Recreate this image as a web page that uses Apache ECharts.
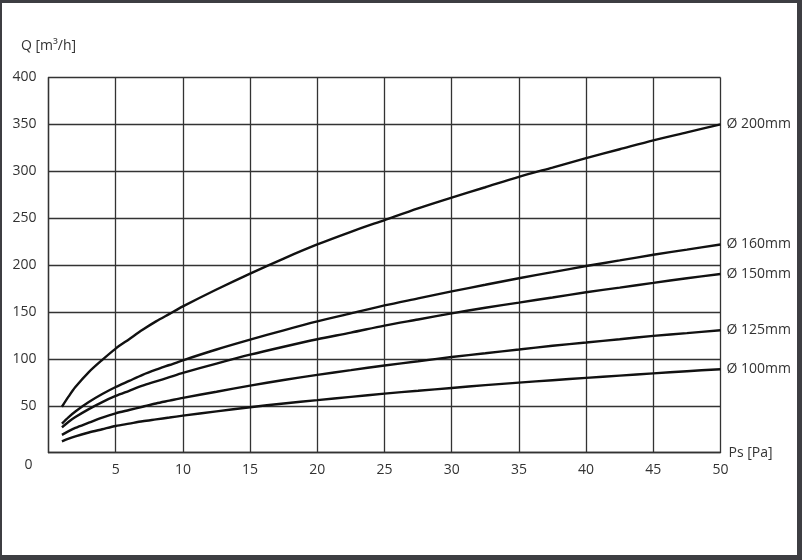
<!DOCTYPE html>
<html>
<head>
<meta charset="utf-8">
<script src="https://cdn.jsdelivr.net/npm/echarts@6/dist/echarts.min.js"></script>
<style>
html,body{margin:0;padding:0;width:802px;height:560px;background:#3d3e42;overflow:hidden;}
#c{position:absolute;left:2px;top:3px;width:795px;height:552px;background:#fff;}
</style>
</head>
<body>
<div id="c"></div>
<script>
// Pressure Ps [Pa]
var psValues = [1, 1.5, 2, 3, 4, 5, 6, 7, 8, 9, 10, 12.5, 15, 17.5, 20, 22.5, 25, 27.5, 30, 32.5, 35, 37.5, 40, 42.5, 45, 47.5, 50];
// Airflow Q [m3/h] for each duct diameter
var q200 = [49, 60, 70, 86, 99, 111, 121, 131, 140, 148, 156, 174, 191, 207, 222, 235.5, 248, 260.5, 272, 283, 294, 304, 314, 323.5, 333, 341.5, 350];
var q160 = [31, 38, 44, 54, 62.5, 70, 76.5, 83, 88.5, 93.5, 98.5, 110, 120.5, 130.5, 140, 148.5, 157, 164.5, 172, 179, 186, 192.5, 199, 205, 211, 216.5, 222];
var q150 = [27, 33, 38, 46.5, 54, 60.5, 66, 71.5, 76, 80.5, 85, 95, 104.5, 113, 121, 128, 135.5, 142, 148.5, 154.5, 160, 165.5, 171, 176, 181, 186, 190.5];
var q125 = [19, 23, 26.5, 32, 37.5, 42, 45.5, 49, 52.5, 55.5, 58.5, 65, 71.5, 77.5, 83, 88, 93, 97.5, 102, 106, 110, 114, 117.5, 121, 124.5, 127.5, 130.5];
var q100 = [12, 15, 17.5, 21.5, 25, 28.5, 31, 33.5, 35.5, 37.5, 39.5, 44, 48.5, 52.5, 56, 59.5, 63, 66, 69, 72, 74.7, 77.3, 79.8, 82.2, 84.6, 86.9, 89];
var seriesNames = ['Ø 200mm', 'Ø 160mm', 'Ø 150mm', 'Ø 125mm', 'Ø 100mm'];
var seriesValues = [q200, q160, q150, q125, q100];
var xAxisName = 'Ps [Pa]';
var yAxisName = 'Q [m³/h]';

var FONT = '"Open Sans", "Noto Sans", sans-serif';
var chart = echarts.init(document.getElementById('c'), null, {renderer: 'canvas'});

var series = seriesNames.map(function (name, i) {
  return {
    name: name,
    type: 'line',
    data: psValues.map(function (x, j) { return [x, seriesValues[i][j]]; }),
    smooth: 0.3,
    symbol: 'none',
    lineStyle: {color: '#111', width: 2.4},
    endLabel: {
      show: true,
      formatter: '{a}',
      distance: 6,
      color: '#333',
      fontFamily: FONT,
      fontSize: 14
    },
    animation: false
  };
});

chart.setOption({
  animation: false,
  grid: {left: 46.5, top: 74.5, right: 76.5, bottom: 102.3, containLabel: false},
  xAxis: {
    type: 'value',
    min: 0, max: 50, interval: 5,
    name: xAxisName,
    nameLocation: 'end',
    nameGap: 8,
    nameTextStyle: {color: '#333', fontFamily: FONT, fontSize: 14},
    axisLine: {show: true, lineStyle: {color: '#333', width: 1.3}},
    axisTick: {show: false},
    axisLabel: {
      color: '#333', fontFamily: FONT, fontSize: 14, margin: 10,
      formatter: function (v) { return v === 0 ? '' : String(v); }
    },
    splitLine: {show: true, lineStyle: {color: '#333', width: 1.3}}
  },
  yAxis: {
    type: 'value',
    min: 0, max: 400, interval: 50,
    name: yAxisName,
    nameLocation: 'end',
    nameGap: 24,
    nameTextStyle: {color: '#333', fontFamily: FONT, fontSize: 14, align: 'center'},
    axisLine: {show: true, lineStyle: {color: '#333', width: 1.3}},
    axisTick: {show: false},
    axisLabel: {
      color: '#333', fontFamily: FONT, fontSize: 14, margin: 12,
      formatter: function (v) { return v === 0 ? '{z|0}' : String(v); },
      rich: {z: {color: '#333', fontFamily: FONT, fontSize: 14, padding: [24, 4, 0, 0]}}
    },
    splitLine: {show: true, lineStyle: {color: '#333', width: 1.3}}
  },
  series: series
});
</script>
</body>
</html>
